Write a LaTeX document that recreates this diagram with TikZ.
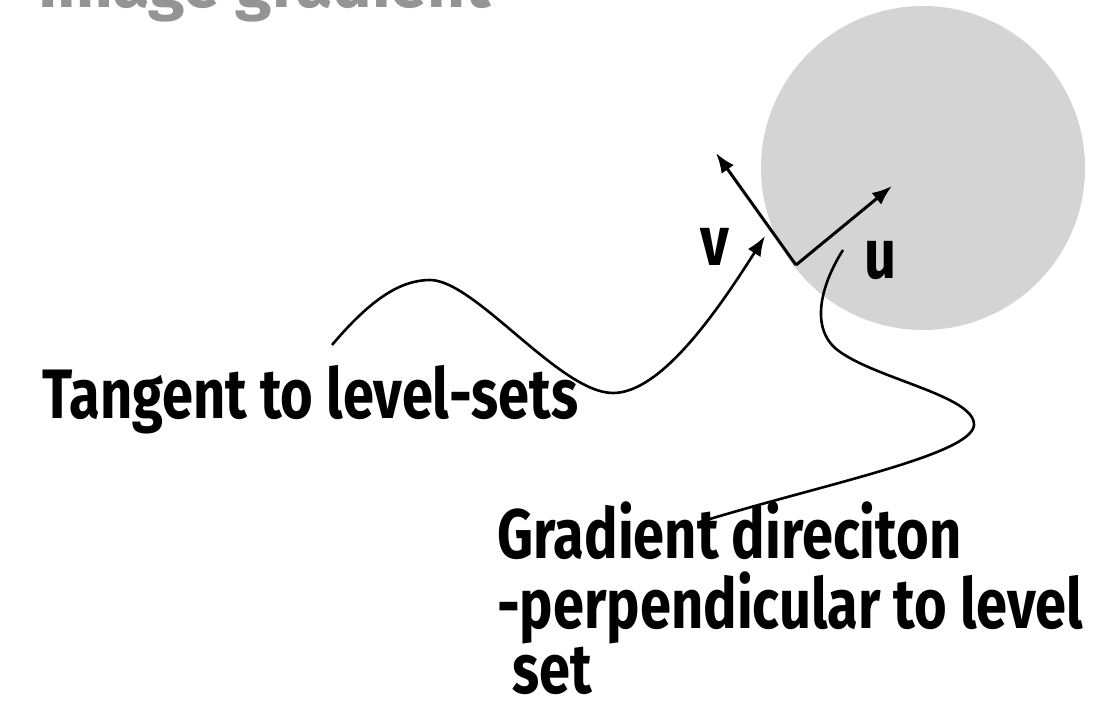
\documentclass[tikz,border=0pt]{standalone}
\usepackage{fontspec}
\newfontfamily\hand{Fira Sans}[FakeStretch=0.8]
\newfontfamily\titlefont{Fira Sans}
\usetikzlibrary{arrows.meta}
\definecolor{disc}{HTML}{D4D4D4}
\definecolor{titlegray}{HTML}{949494}
\tikzset{
  lbl/.style={inner sep=0pt, anchor=base west, font=\hand\bfseries\fontsize{70}{70}\selectfont},
  tip/.style={-{Latex[length=20pt,width=15pt]}},
  vec/.style={line width=3pt, tip},
  wave/.style={line width=2.6pt},
}
\begin{document}
\begin{tikzpicture}[x=1pt,y=-1pt]
\useasboundingbox (0,0) rectangle (1104,704);
\begin{scope}
\clip (0,0) rectangle (1104,704);
\node[inner sep=0pt, anchor=base west, text=titlegray, font=\titlefont\bfseries\fontsize{66}{66}\selectfont] (title) at (38,8) {Image gradient};
\end{scope}
\node[circle, fill=disc, minimum size=324pt, inner sep=0pt] (disc) at (923,168) {};
\coordinate (O) at (796,265);
\coordinate (vtip) at (716,153);
\coordinate (utip) at (892,186);
\draw[vec] (O) -- (vtip);
\draw[vec] (O) -- (utip);
\node[lbl] (v) at (700,265) {v};
\node[lbl] (u) at (864,278) {u};
\node[lbl] (tangent) at (42,418) {Tangent to level-sets};
\node[lbl] (grad1) at (497,558) {Gradient direciton};
\node[lbl] (grad2) at (497,628) {-perpendicular to level};
\node[lbl] (grad3) at (512,693) {set};
\coordinate (w0) at (332,345);
\coordinate (w1) at (765,236);
\draw[wave, tip] (w0) .. controls (370,300) and (400,280) .. (430,280)
  .. controls (475,280) and (560,393) .. (613,393)
  .. controls (660,393) and (715,315) .. (w1);
\coordinate (g0) at (843,250);
\coordinate (g1) at (700,522);
\draw[wave] (g0) .. controls (822,283) and (810,325) .. (835,348)
  .. controls (870,378) and (975,395) .. (974,425)
  .. controls (972,455) and (820,485) .. (g1);
\end{tikzpicture}
\end{document}
